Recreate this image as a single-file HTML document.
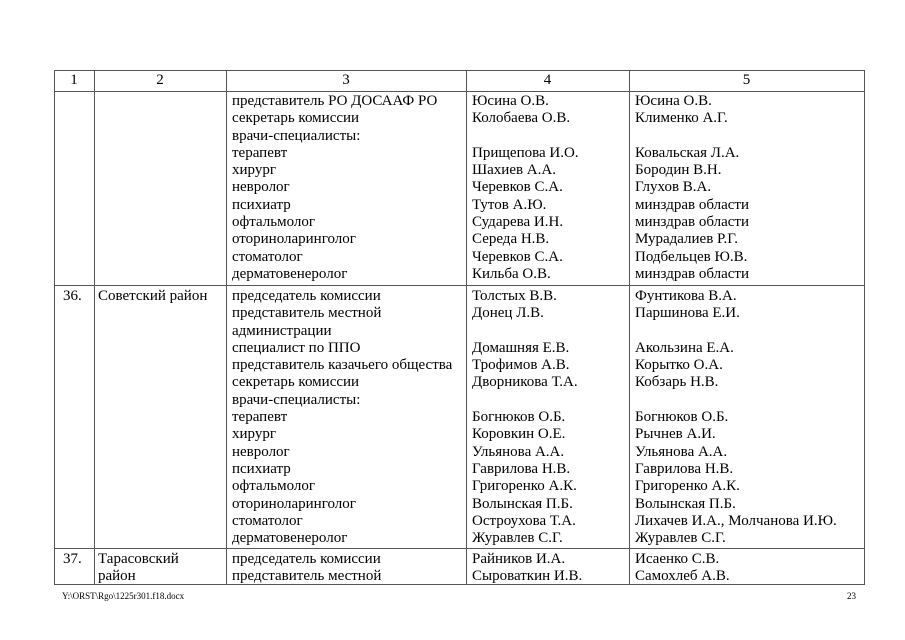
<!DOCTYPE html>
<html><head><meta charset="utf-8"><style>
body{margin:0;width:905px;height:640px;background:#fff;position:relative;font-family:"Liberation Serif","DejaVu Serif",serif;color:#000;overflow:hidden}
.h{position:absolute;height:1px;background:#555}
.v{position:absolute;width:1px;background:#555}
.t{position:absolute;font-size:15px;line-height:17.3px;white-space:pre}
.c{text-align:center}
</style></head><body>
<div class="h" style="left:54px;width:811px;top:70px"></div>
<div class="h" style="left:54px;width:811px;top:91px"></div>
<div class="h" style="left:54px;width:811px;top:285px"></div>
<div class="h" style="left:54px;width:811px;top:548px"></div>
<div class="h" style="left:54px;width:811px;top:584px"></div>
<div class="v" style="left:54px;top:70px;height:515px"></div>
<div class="v" style="left:94px;top:70px;height:515px"></div>
<div class="v" style="left:226px;top:70px;height:515px"></div>
<div class="v" style="left:466px;top:70px;height:515px"></div>
<div class="v" style="left:629px;top:70px;height:515px"></div>
<div class="v" style="left:864px;top:70px;height:515px"></div>

<div class="t c" style="left:54px;width:40px;top:72px">1</div>
<div class="t c" style="left:94px;width:132px;top:72px">2</div>
<div class="t c" style="left:226px;width:240px;top:72px">3</div>
<div class="t c" style="left:466px;width:163px;top:72px">4</div>
<div class="t c" style="left:629px;width:235px;top:72px">5</div>

<div class="t" style="left:232px;top:93px">представитель РО ДОСААФ РО
секретарь комиссии
врачи-специалисты:
терапевт
хирург
невролог
психиатр
офтальмолог
оториноларинголог
стоматолог
дерматовенеролог</div>
<div class="t" style="left:472px;top:93px">Юсина О.В.
Колобаева О.В.

Прищепова И.О.
Шахиев А.А.
Черевков С.А.
Тутов А.Ю.
Сударева И.Н.
Середа Н.В.
Черевков С.А.
Кильба О.В.</div>
<div class="t" style="left:635px;top:93px">Юсина О.В.
Клименко А.Г.

Ковальская Л.А.
Бородин В.Н.
Глухов В.А.
минздрав области
минздрав области
Мурадалиев Р.Г.
Подбельцев Ю.В.
минздрав области</div>

<div class="t" style="left:63px;top:288px">36.</div>
<div class="t" style="left:98px;top:288px">Советский район</div>
<div class="t" style="left:232px;top:288px">председатель комиссии
представитель местной
администрации
специалист по ППО
представитель казачьего общества
секретарь комиссии
врачи-специалисты:
терапевт
хирург
невролог
психиатр
офтальмолог
оториноларинголог
стоматолог
дерматовенеролог</div>
<div class="t" style="left:472px;top:288px">Толстых В.В.
Донец Л.В.

Домашняя Е.В.
Трофимов А.В.
Дворникова Т.А.

Богнюков О.Б.
Коровкин О.Е.
Ульянова А.А.
Гаврилова Н.В.
Григоренко А.К.
Волынская П.Б.
Остроухова Т.А.
Журавлев С.Г.</div>
<div class="t" style="left:635px;top:288px">Фунтикова В.А.
Паршинова Е.И.

Акользина Е.А.
Корытко О.А.
Кобзарь Н.В.

Богнюков О.Б.
Рычнев А.И.
Ульянова А.А.
Гаврилова Н.В.
Григоренко А.К.
Волынская П.Б.
Лихачев И.А., Молчанова И.Ю.
Журавлев С.Г.</div>

<div class="t" style="left:63px;top:551px">37.</div>
<div class="t" style="left:98px;top:551px">Тарасовский
район</div>
<div class="t" style="left:232px;top:551px">председатель комиссии
представитель местной</div>
<div class="t" style="left:472px;top:551px">Райников И.А.
Сыроваткин И.В.</div>
<div class="t" style="left:635px;top:551px">Исаенко С.В.
Самохлеб А.В.</div>

<div class="t" style="left:62px;top:591px;font-size:9px;line-height:11px">Y:\ORST\Rgo\1225r301.f18.docx</div>
<div class="t" style="left:847px;top:591px;font-size:9px;line-height:11px">23</div>
</body></html>
